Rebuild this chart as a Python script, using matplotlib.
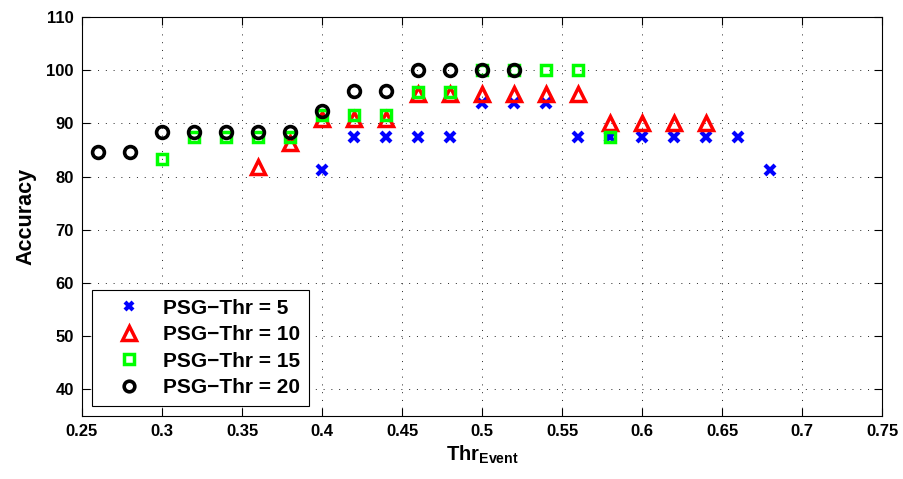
import matplotlib
matplotlib.use("Agg")
import matplotlib.pyplot as plt

plt.rcParams.update({
    "font.family": "Liberation Sans",
    "font.weight": "bold",
    "font.size": 12,
    "mathtext.fontset": "custom",
    "mathtext.rm": "Liberation Sans:bold",
    "mathtext.bf": "Liberation Sans:bold",
    "mathtext.it": "Liberation Sans:bold",
})

# ── Data ─────────────────────────────────────────────────────────────────────
thr5_x  = [0.40, 0.42, 0.44, 0.46, 0.48, 0.50, 0.52, 0.54, 0.56, 0.58, 0.60, 0.62, 0.64, 0.66, 0.68]
thr5_y  = [81.25, 87.5, 87.5, 87.5, 87.5, 93.75, 93.75, 93.75, 87.5, 87.5, 87.5, 87.5, 87.5, 87.5, 81.25]

thr10_x = [0.36, 0.38, 0.40, 0.42, 0.44, 0.46, 0.48, 0.50, 0.52, 0.54, 0.56, 0.58, 0.60, 0.62, 0.64]
thr10_y = [81.8, 86.4, 90.9, 90.9, 90.9, 95.45, 95.45, 95.45, 95.45, 95.45, 95.45, 90.0, 90.0, 90.0, 90.0]

thr15_x = [0.30, 0.32, 0.34, 0.36, 0.38, 0.40, 0.42, 0.44, 0.46, 0.48, 0.50, 0.52, 0.54, 0.56, 0.58]
thr15_y = [83.33, 87.5, 87.5, 87.5, 87.5, 91.67, 91.67, 91.67, 95.83, 95.83, 100, 100, 100, 100, 87.5]

thr20_x = [0.26, 0.28, 0.30, 0.32, 0.34, 0.36, 0.38, 0.40, 0.42, 0.44, 0.46, 0.48, 0.50, 0.52]
thr20_y = [84.62, 84.62, 88.46, 88.46, 88.46, 88.46, 88.46, 92.31, 96.15, 96.15, 100, 100, 100, 100]

xticks = [0.25, 0.3, 0.35, 0.4, 0.45, 0.5, 0.55, 0.6, 0.65, 0.7, 0.75]
xtick_labels = ["0.25", "0.3", "0.35", "0.4", "0.45", "0.5", "0.55", "0.6", "0.65", "0.7", "0.75"]
yticks = [40, 50, 60, 70, 80, 90, 100, 110]

# ── Plot ─────────────────────────────────────────────────────────────────────
fig = plt.figure(figsize=(9.04, 4.79), dpi=100)
ax = fig.add_axes([0.0907, 0.1315, 0.885, 0.833])

ax.plot(thr5_x, thr5_y, ls="none", marker="x", ms=7, mew=3, color="#0000ff", label="PSG\u2212Thr = 5")
ax.plot(thr10_x, thr10_y, ls="none", marker="^", ms=10.5, mew=2.5, mfc="none", mec="#ff0000", label="PSG\u2212Thr = 10")
ax.plot(thr15_x, thr15_y, ls="none", marker="s", ms=7.5, mew=2.5, mfc="none", mec="#00ff00", label="PSG\u2212Thr = 15")
ax.plot(thr20_x, thr20_y, ls="none", marker="o", ms=8.5, mew=2.6, mfc="none", mec="black", label="PSG\u2212Thr = 20")

ax.set_xlim(0.25, 0.75)
ax.set_ylim(35, 110)
ax.set_xticks(xticks)
ax.set_xticklabels(xtick_labels)
ax.set_yticks(yticks)
ax.grid(True, color="#222222", linestyle=(0, (1, 7)), linewidth=0.7)
ax.tick_params(direction="in", length=6, width=0.8, top=True, right=True, pad=6)
for s in ax.spines.values():
    s.set_linewidth(0.8)

ax.set_xlabel(r"$\mathrm{Thr}_{\mathrm{Event}}$", fontsize=14.5, labelpad=3)
ax.set_ylabel("Accuracy", fontsize=15.5, fontweight="bold", labelpad=7)

leg = ax.legend(loc="lower left", fontsize=15, frameon=True, fancybox=False,
                edgecolor="black", framealpha=1, markerscale=0.9,
                handlelength=2.75, handletextpad=0.25, borderpad=0.4,
                labelspacing=0.36, borderaxespad=0.5)
leg.get_frame().set_linewidth(0.8)

fig.savefig("out.png", dpi=100)
